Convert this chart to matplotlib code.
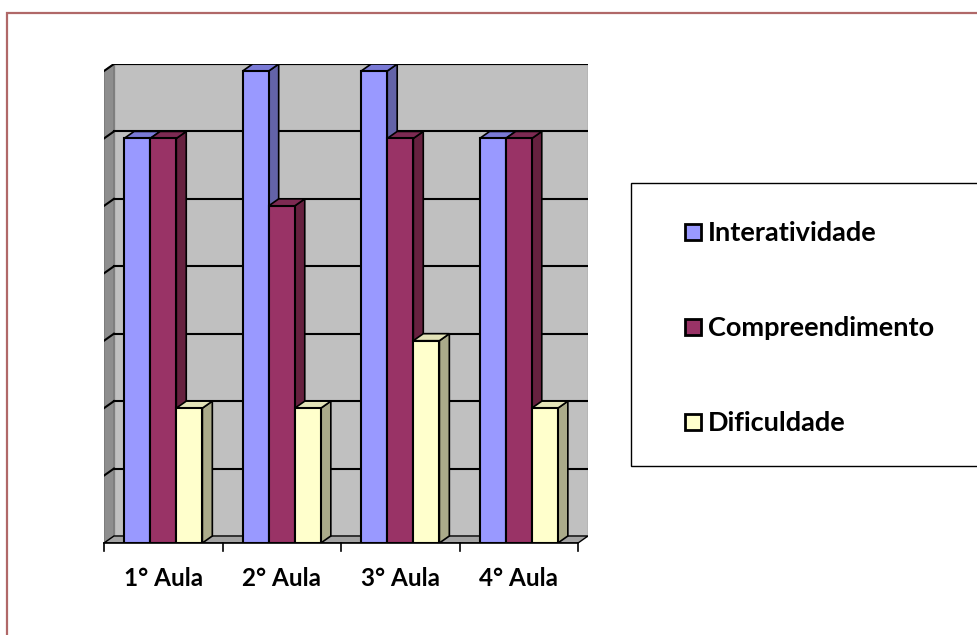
import matplotlib.pyplot as plt
from matplotlib.patches import Polygon, Rectangle

categories = ['1° Aula', '2° Aula', '3° Aula', '4° Aula']
series_names = ['Interatividade', 'Compreendimento', 'Dificuldade']
interatividade = [6, 7, 7, 6]
compreendimento = [6, 5, 6, 6]
dificuldade = [2, 2, 3, 2]

front_colors = ['#9999FF', '#993366', '#FFFFCC']
side_colors = ['#6363A8', '#66213F', '#ABAB8A']
top_colors = ['#7A7AD6', '#7D2A52', '#E3E3B8']

W, H = 978, 635
DX, DY = 0.084, 0.104      # depth offset of the 3-d effect, data units
YMAX = 7
BAR_W = 0.22

fig = plt.figure(figsize=(W / 100, H / 100), dpi=100)
fig.patch.set_facecolor('white')

def fx(px):
    return px / W

def fy(py):
    return 1 - py / H

# chart area border (runs off the right and bottom edges)
fig.patches.append(Rectangle((fx(7), fy(700)), fx(1100), fy(13) - fy(700),
                             transform=fig.transFigure, fill=False,
                             edgecolor='#B06868', linewidth=1.6))

ax = fig.add_axes([fx(104), fy(543), fx(588) - fx(104), fy(64) - fy(543)])
ax.set_xlim(-0.5, 3.5 + DX)
ax.set_ylim(0, YMAX + DY)
ax.axis('off')

x0, x1 = -0.5, 3.5
# back wall
ax.add_patch(Polygon([(x0 + DX, DY), (x1 + DX, DY), (x1 + DX, YMAX + DY), (x0 + DX, YMAX + DY)],
                     closed=True, facecolor='#C0C0C0', edgecolor='#909090', linewidth=1, zorder=1))
# side wall
ax.add_patch(Polygon([(x0, 0), (x0 + DX, DY), (x0 + DX, YMAX + DY), (x0, YMAX)],
                     closed=True, facecolor='#8E8E8E', edgecolor='#777777', linewidth=1, zorder=1))
# floor
ax.add_patch(Polygon([(x0, 0), (x1, 0), (x1 + DX, DY), (x0 + DX, DY)],
                     closed=True, facecolor='#A4A4A4', edgecolor='black', linewidth=1, zorder=1))

# gridlines on back wall and side wall
for k in range(1, YMAX + 1):
    ax.plot([x0 + DX, x1 + DX], [k + DY, k + DY], color='black', lw=1.5, zorder=2)
    ax.plot([x0, x0 + DX], [k, k + DY], color='black', lw=1.5, zorder=2)

# bars with side and top faces
series = [interatividade, compreendimento, dificuldade]
z = 3
for i in range(len(categories)):
    for j, vals in enumerate(series):
        v = vals[i]
        left = i + (j - 1) * BAR_W - BAR_W / 2
        right = left + BAR_W
        ax.add_patch(Polygon([(right, 0), (right + DX, DY), (right + DX, v + DY), (right, v)],
                             closed=True, facecolor=side_colors[j], edgecolor='black',
                             linewidth=1.2, zorder=z))
        ax.add_patch(Polygon([(left, v), (right, v), (right + DX, v + DY), (left + DX, v + DY)],
                             closed=True, facecolor=top_colors[j], edgecolor='black',
                             linewidth=1.2, zorder=z))
        ax.bar(i + (j - 1) * BAR_W, v, width=BAR_W, color=front_colors[j],
               edgecolor='black', linewidth=1.5, zorder=z + 1)
        z += 2

# category axis with tick marks
ax.plot([x0, x1], [0, 0], color='black', lw=1.2, zorder=z, clip_on=False)
for b in range(len(categories) + 1):
    ax.plot([x0 + b, x0 + b], [0, -0.12], color='black', lw=1.2, clip_on=False, zorder=z)
for i, c in enumerate(categories):
    ax.text(i, -0.52, c, ha='center', va='center', fontsize=17.5, fontweight='bold',
            family='Lato', clip_on=False)

# legend box
fig.patches.append(Rectangle((fx(631), fy(466)), fx(500), fy(183) - fy(466),
                             transform=fig.transFigure, facecolor='white',
                             edgecolor='black', linewidth=1))
rows = [232, 327, 422]
for name, col, py in zip(series_names, front_colors, rows):
    fig.patches.append(Rectangle((fx(685), fy(py + 8)), fx(16), fy(py - 8) - fy(py + 8),
                                 transform=fig.transFigure, facecolor=col,
                                 edgecolor='black', linewidth=2))
    fig.text(fx(708), fy(py + 1), name, ha='left', va='center', fontsize=19.5,
             fontweight='bold', family='Lato')

fig.savefig('out.png', dpi=100)
